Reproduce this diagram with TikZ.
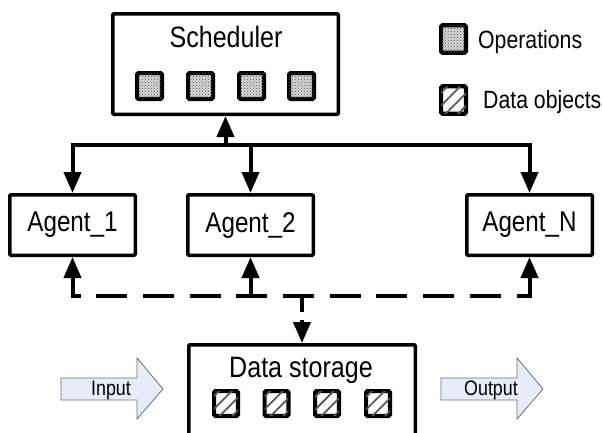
\documentclass[tikz,border=0pt]{standalone}
\usepackage{fontspec}
\setmainfont{Liberation Sans}[FakeStretch=0.85]
\usetikzlibrary{arrows.meta,patterns,patterns.meta}
\definecolor{ioblue}{RGB}{230,237,248}
\definecolor{iogray}{RGB}{110,110,110}
\begin{document}
\begin{tikzpicture}[x=1pt,y=-1pt,
  box/.style={draw, line width=3.5pt, rounded corners=1pt, inner sep=0pt, fill=white},
  conn/.style={line width=4pt},
  tipend/.style={-{Triangle[length=21pt,width=17pt]}},
  opsq/.style={draw, line width=4.2pt, rounded corners=1.5pt, minimum width=24.8pt, minimum height=25.8pt, inner sep=0pt, fill=gray!30, postaction={pattern=crosshatch dots, pattern color=gray!60!black}},
  dtsq/.style={draw, line width=4.2pt, rounded corners=1.5pt, minimum width=23.8pt, minimum height=24.8pt, inner sep=0pt, fill=white, postaction={pattern={Lines[angle=45,distance=9pt,line width=1.8pt]}, pattern color=gray!70!black}},
  title/.style={inner sep=0pt, font=\fontsize{29.5}{30}\selectfont},
  agent/.style={box, minimum width=125.5pt, minimum height=60.5pt, font=\fontsize{28.5}{30}\selectfont},
  legtxt/.style={inner sep=0pt, anchor=base west, font=\fontsize{25}{26}\selectfont},
  iotxt/.style={inner sep=0pt, anchor=base, font=\fontsize{21}{22}\selectfont},
  ioarrow/.style={draw=iogray, fill=ioblue, line width=0.8pt}
]
\useasboundingbox (0,0) rectangle (602,432);
\clip (0,0) rectangle (602,432);

% Scheduler
\node[box, minimum width=225.5pt, minimum height=100.5pt] (sched) at (225.5,64) {};
\node[title, anchor=base] (schedt) at (226,47) {Scheduler};
\node[opsq] (op1) at (149.5,86) {};
\node[opsq] (op2) at (200.5,86) {};
\node[opsq] (op3) at (251.5,86) {};
\node[opsq] (op4) at (301.5,86) {};

% Legend
\node[opsq, minimum height=27.5pt] (lop) at (453.5,39) {};
\node[legtxt] (lopt) at (478,48) {Operations};
\node[dtsq, minimum width=24.8pt, minimum height=27.5pt] (ldt) at (453.5,100) {};
\node[legtxt] (ldtt) at (483,108) {Data objects};

% Agents
\node[agent] (a1) at (72.5,225) {Agent\_1};
\node[agent] (a2) at (250.5,225) {Agent\_2};
\node[agent] (aN) at (529.5,225) {Agent\_N};

% Data storage
\node[box, minimum width=226.5pt, minimum height=105pt] (ds) at (302,397.25) {};
\node[title, anchor=base] (dst) at (301,377) {Data storage};
\node[dtsq] (d1) at (226,403.5) {};
\node[dtsq] (d2) at (276.5,403.5) {};
\node[dtsq] (d3) at (327,403.5) {};
\node[dtsq] (d4) at (378,403.5) {};

% top bus
\coordinate (busL) at (73,145);
\draw[conn, {Triangle[length=21pt,width=17pt]}-{Triangle[length=21pt,width=17pt]}]
  (a1.north) -- (a1.north |- busL) -- (aN.north |- busL) -- (aN.north);
\draw[conn, tipend] (a2.north |- busL) -- (a2.north);
\draw[conn, tipend] (sched.south |- busL) -- (sched.south);

% dashed bus
\coordinate (dL) at (72.5,296);
\coordinate (dR) at (529.5,296);
\draw[conn, dash pattern=on 31pt off 15.7pt, dash phase=23pt] (dL) -- (dR);
\draw[conn, tipend, shorten <=-2pt] (a1.south |- dL) -- (a1.south);
\draw[conn, tipend] (a2.south |- dL) -- (a2.south);
\draw[conn, tipend, shorten <=-2pt] (aN.south |- dL) -- (aN.south);
\draw[conn, tipend, dash pattern=on 16pt off 8pt] (ds.north |- dL) -- (ds.north);

% input / output arrows
\draw[ioarrow] (61,378) -- (137,378) -- (137,358) -- (163,389) -- (137,419) -- (137,400) -- (61,400) -- cycle;
\node[iotxt] (inp) at (111,395) {Input};
\draw[ioarrow] (441,378) -- (517,378) -- (517,358) -- (543,389) -- (517,419) -- (517,400) -- (441,400) -- cycle;
\node[iotxt] (outp) at (491,395) {Output};
\end{tikzpicture}
\end{document}
